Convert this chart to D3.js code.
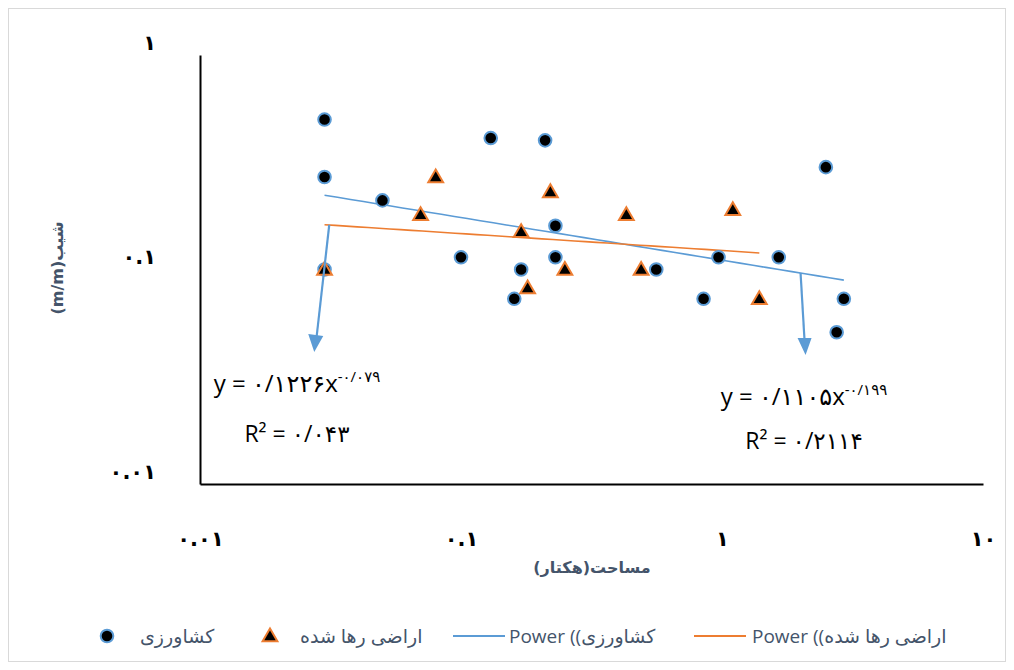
<!DOCTYPE html>
<html>
<head>
<meta charset="utf-8">
<script src="https://cdn.jsdelivr.net/npm/d3@7"></script>
<style>
  html, body { margin: 0; padding: 0; background: #fff; }
  svg { display: block; }
</style>
</head>
<body>
<svg id="chart" width="1014" height="670"></svg>
<script>
// Farmland plots (circles): area (ha), slope (m/m)
const farmArea  = [0.03, 0.03, 0.03, 0.05, 0.10, 0.13, 0.16, 0.17, 0.21, 0.23, 0.23, 0.56, 0.85, 0.97, 1.65, 2.50, 2.75, 2.93];
const farmSlope = [0.50, 0.27, 0.10, 0.21, 0.114, 0.41, 0.073, 0.10, 0.40, 0.16, 0.114, 0.10, 0.073, 0.114, 0.114, 0.30, 0.051, 0.073];

// Abandoned land plots (triangles): area (ha), slope (m/m)
const abandArea  = [0.03, 0.07, 0.08, 0.17, 0.18, 0.22, 0.25, 0.43, 0.49, 1.10, 1.39];
const abandSlope = [0.10, 0.18, 0.27, 0.15, 0.082, 0.23, 0.10, 0.18, 0.10, 0.19, 0.073];

// Power trend fits y = a * x^b
const farmFit  = { a: 0.1105, b: -0.199, label: "y = ۰/۱۱۰۵x", exp: "-۰/۱۹۹", r2: "R² = ۰/۲۱۱۴" };
const abandFit = { a: 0.1226, b: -0.079, label: "y = ۰/۱۲۲۶x", exp: "-۰/۰۷۹", r2: "R² = ۰/۰۴۳" };

// Tick values and their Persian labels
const xTicks = [0.01, 0.1, 1, 10];
const xTickLabels = ["۰.۰۱", "۰.۱", "۱", "۱۰"];
const yTicks = [0.01, 0.1, 1];
const yTickLabels = ["۰.۰۱", "۰.۱", "۱"];

const legendLabels = ["کشاورزی", "اراضی رها شده", "Power ((کشاورزی", "Power ((اراضی رها شده"];

const BLUE = "#5B9BD5", ORANGE = "#ED7D31", TEXT = "#44546A";

const svg = d3.select("#chart");

// chart frame
svg.append("rect")
  .attr("x", 8.5).attr("y", 8.5).attr("width", 997).attr("height", 653)
  .attr("fill", "#fff").attr("stroke", "#D9D9D9").attr("stroke-width", 1);

const x = d3.scaleLog().domain([0.01, 10]).range([200, 983]);
const y = d3.scaleLog().domain([0.01, 1]).range([484, 55]);

// axes
const xAxis = svg.append("g").attr("transform", "translate(0,484)")
  .call(d3.axisBottom(x).tickValues(xTicks).tickSize(0).tickPadding(0)
    .tickFormat((d, i) => xTickLabels[i]));
xAxis.select(".domain").attr("stroke", "#000").attr("stroke-width", 2);
xAxis.selectAll("text")
  .attr("dy", null).attr("y", 62)
  .attr("font-family", "DejaVu Sans").attr("font-weight", "bold")
  .attr("font-size", 21).attr("fill", "#000");

const yAxis = svg.append("g").attr("transform", "translate(200,0)")
  .call(d3.axisLeft(y).tickValues(yTicks).tickSize(0).tickPadding(0)
    .tickFormat((d, i) => yTickLabels[i]));
yAxis.select(".domain").attr("stroke", "#000").attr("stroke-width", 2);
yAxis.selectAll("text")
  .attr("dy", null).attr("x", -44).attr("y", -6)
  .attr("font-family", "DejaVu Sans").attr("font-weight", "bold")
  .attr("font-size", 21).attr("fill", "#000");

// axis titles
svg.append("text")
  .attr("x", 592).attr("y", 573)
  .attr("direction", "rtl").attr("text-anchor", "middle")
  .attr("font-family", "DejaVu Sans").attr("font-weight", "bold")
  .attr("font-size", 16).attr("fill", TEXT)
  .text("مساحت(هکتار)");

svg.append("text")
  .attr("transform", "translate(63,268) rotate(-90)")
  .attr("direction", "rtl").attr("text-anchor", "middle")
  .attr("font-family", "DejaVu Sans").attr("font-weight", "bold")
  .attr("font-size", 16).attr("fill", TEXT)
  .text("شیب(m/m)");

// power trend lines, spanning each series' x range
function trendPoints(fit, xs) {
  const lo = Math.log10(d3.min(xs)), hi = Math.log10(d3.max(xs));
  return d3.range(0, 41).map(i => {
    const xv = Math.pow(10, lo + (hi - lo) * i / 40);
    return [xv, fit.a * Math.pow(xv, fit.b)];
  });
}
const line = d3.line().x(d => x(d[0])).y(d => y(d[1]));

svg.append("path").datum(trendPoints(farmFit, farmArea))
  .attr("d", line).attr("fill", "none").attr("stroke", BLUE).attr("stroke-width", 1.6);
svg.append("path").datum(trendPoints(abandFit, abandArea))
  .attr("d", line).attr("fill", "none").attr("stroke", ORANGE).attr("stroke-width", 1.6);

// markers
const farm = farmArea.map((a, i) => [a, farmSlope[i]]);
const aband = abandArea.map((a, i) => [a, abandSlope[i]]);

svg.append("g").selectAll("circle").data(farm).join("circle")
  .attr("cx", d => x(d[0])).attr("cy", d => y(d[1])).attr("r", 6.3)
  .attr("fill", "#000").attr("stroke", BLUE).attr("stroke-width", 2);

const tri = d3.symbol().type(d3.symbolTriangle).size(95);
svg.append("g").selectAll("path").data(aband).join("path")
  .attr("d", tri)
  .attr("transform", d => `translate(${x(d[0])},${y(d[1]) + 1})`)
  .attr("fill", "#000").attr("stroke", ORANGE).attr("stroke-width", 2);

// arrows pointing from the trend lines to their equations
const a1x = x(0.031), a1y = y(abandFit.a * Math.pow(0.031, abandFit.b));
svg.append("line").attr("x1", a1x + 1).attr("y1", a1y)
  .attr("x2", a1x - 12).attr("y2", 340).attr("stroke", BLUE).attr("stroke-width", 2.2);
svg.append("path").attr("d", `M${a1x - 20},334 L${a1x - 5},336 L${a1x - 14},352 Z`).attr("fill", BLUE);

const a2x = x(2.0), a2y = y(farmFit.a * Math.pow(2.0, farmFit.b));
svg.append("line").attr("x1", a2x).attr("y1", a2y)
  .attr("x2", a2x + 4).attr("y2", 341).attr("stroke", BLUE).attr("stroke-width", 2.2);
svg.append("path").attr("d", `M${a2x - 3},338 L${a2x + 11},338 L${a2x + 5},355 Z`).attr("fill", BLUE);

// equation labels
function equation(fit, cx, y1, y2) {
  const t = svg.append("text").attr("x", cx).attr("y", y1)
    .attr("text-anchor", "middle").attr("direction", "ltr")
    .attr("font-family", "Open Sans, DejaVu Sans").attr("font-size", 24).attr("fill", "#000");
  t.append("tspan").text(fit.label);
  t.append("tspan").attr("dy", -10).attr("font-size", 15).text(fit.exp);
  svg.append("text").attr("x", cx).attr("y", y2)
    .attr("text-anchor", "middle").attr("direction", "ltr")
    .attr("font-family", "Open Sans, DejaVu Sans").attr("font-size", 23).attr("fill", "#000")
    .text(fit.r2);
}
equation(abandFit, 297, 392, 442);
equation(farmFit, 804, 405, 449);

// legend
const lg = svg.append("g").attr("font-family", "Open Sans, DejaVu Sans")
  .attr("font-size", 19).attr("fill", TEXT);
lg.append("circle").attr("cx", 107).attr("cy", 636).attr("r", 6.3)
  .attr("fill", "#000").attr("stroke", BLUE).attr("stroke-width", 2);
lg.append("text").attr("x", 140).attr("y", 643).text(legendLabels[0]);
lg.append("path").attr("d", tri).attr("transform", "translate(270,637)")
  .attr("fill", "#000").attr("stroke", ORANGE).attr("stroke-width", 2);
lg.append("text").attr("x", 300).attr("y", 643).text(legendLabels[1]);
lg.append("line").attr("x1", 453).attr("x2", 505).attr("y1", 636).attr("y2", 636)
  .attr("stroke", BLUE).attr("stroke-width", 1.8);
lg.append("text").attr("x", 509).attr("y", 643).attr("direction", "ltr").text(legendLabels[2]);
lg.append("line").attr("x1", 694).attr("x2", 746).attr("y1", 636).attr("y2", 636)
  .attr("stroke", ORANGE).attr("stroke-width", 1.8);
lg.append("text").attr("x", 752).attr("y", 643).attr("direction", "ltr").text(legendLabels[3]);
</script>
</body>
</html>
